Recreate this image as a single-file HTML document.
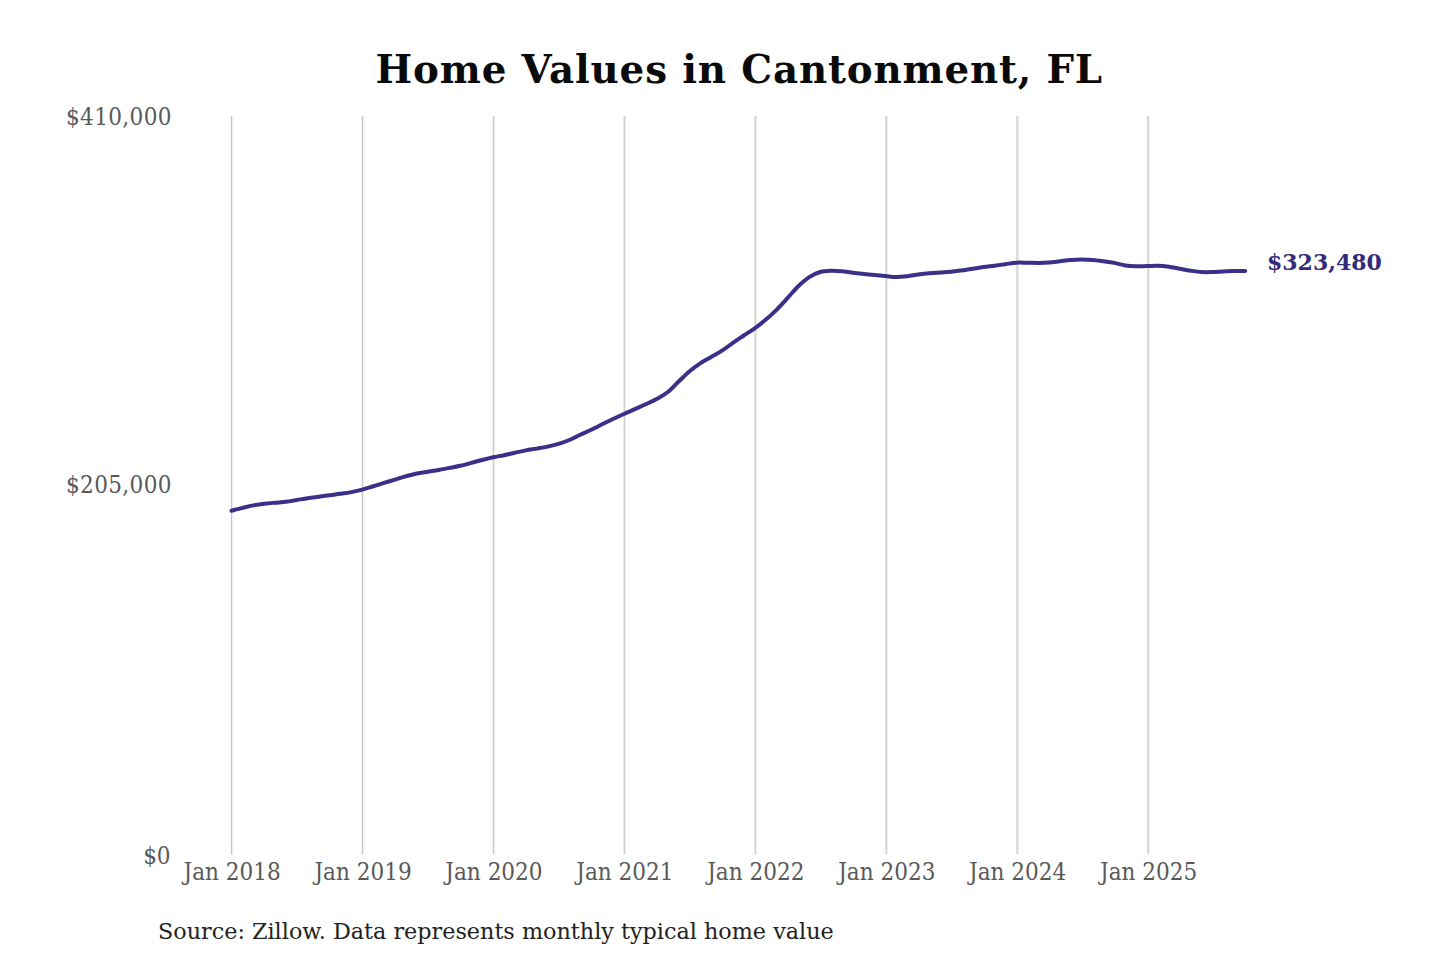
<!DOCTYPE html>
<html><head><meta charset="utf-8"><title>Home Values in Cantonment, FL</title>
<style>
html,body{margin:0;padding:0;background:#fff;}
body{width:1440px;height:960px;overflow:hidden;}
svg{display:block;}
.title{font-family:"DejaVu Serif",serif;font-weight:bold;font-size:38.8px;fill:#0a0a0a;}
.ax{font-family:"DejaVu Serif Condensed","DejaVu Serif",serif;font-stretch:condensed;font-size:24px;fill:#595959;}
.yl{letter-spacing:0.35px;}
.src{font-family:"DejaVu Serif",serif;font-size:22.3px;fill:#222;}
.val{font-family:"DejaVu Serif",serif;font-weight:bold;font-size:22px;fill:#332b7a;}
</style></head>
<body>
<svg width="1440" height="960" viewBox="0 0 1440 960">
<rect width="1440" height="960" fill="#fff"/>
<text class="title" x="375.6" y="82.9" textLength="726.5" lengthAdjust="spacing">Home Values in Cantonment, FL</text>
<g stroke="#f0f0f0" stroke-width="3"><line x1="232" y1="116" x2="232" y2="854.3"/><line x1="362.93" y1="116" x2="362.93" y2="854.3"/><line x1="493.86" y1="116" x2="493.86" y2="854.3"/><line x1="624.79" y1="116" x2="624.79" y2="854.3"/><line x1="755.72" y1="116" x2="755.72" y2="854.3"/><line x1="886.65" y1="116" x2="886.65" y2="854.3"/><line x1="1017.58" y1="116" x2="1017.58" y2="854.3"/><line x1="1148.51" y1="116" x2="1148.51" y2="854.3"/></g>
<g stroke="#c6c6c6" stroke-width="1"><line x1="231.5" y1="116" x2="231.5" y2="854.3"/><line x1="362.43" y1="116" x2="362.43" y2="854.3"/><line x1="493.36" y1="116" x2="493.36" y2="854.3"/><line x1="624.29" y1="116" x2="624.29" y2="854.3"/><line x1="755.22" y1="116" x2="755.22" y2="854.3"/><line x1="886.15" y1="116" x2="886.15" y2="854.3"/><line x1="1017.08" y1="116" x2="1017.08" y2="854.3"/><line x1="1148.01" y1="116" x2="1148.01" y2="854.3"/></g>
<g class="ax yl" text-anchor="end">
<text x="171.8" y="124.6">$410,000</text>
<text x="171.8" y="492.5">$205,000</text>
<text x="170.6" y="863.8" letter-spacing="0">$0</text>
</g>
<g class="ax" text-anchor="middle"><text x="232.1" y="879.5">Jan 2018</text><text x="363.03" y="879.5">Jan 2019</text><text x="493.96" y="879.5">Jan 2020</text><text x="624.89" y="879.5">Jan 2021</text><text x="755.82" y="879.5">Jan 2022</text><text x="886.75" y="879.5">Jan 2023</text><text x="1017.68" y="879.5">Jan 2024</text><text x="1148.61" y="879.5">Jan 2025</text></g>
<path d="M231.5,510.7C233.32,510.23 238.77,508.78 242.4,507.9C246.03,507.02 249.67,506.09 253.3,505.4C256.93,504.71 260.57,504.2 264.2,503.75C267.83,503.3 271.47,503.02 275.1,502.7C278.73,502.38 282.37,502.25 286,501.8C289.63,501.35 293.27,500.6 296.9,500C300.53,499.4 304.17,498.75 307.8,498.2C311.43,497.65 315.07,497.2 318.7,496.7C322.33,496.2 325.97,495.68 329.6,495.2C333.23,494.72 336.87,494.32 340.5,493.8C344.13,493.28 347.77,492.8 351.4,492.1C355.03,491.4 358.67,490.58 362.3,489.6C365.93,488.62 369.57,487.37 373.2,486.25C376.83,485.13 380.47,484.01 384.1,482.9C387.73,481.79 391.37,480.71 395,479.6C398.63,478.49 402.27,477.27 405.9,476.25C409.53,475.23 413.17,474.26 416.8,473.5C420.43,472.74 424.07,472.28 427.7,471.7C431.33,471.12 434.97,470.63 438.6,470C442.23,469.37 445.87,468.6 449.5,467.9C453.13,467.2 456.77,466.63 460.4,465.8C464.03,464.97 467.67,463.87 471.3,462.9C474.93,461.93 478.57,460.93 482.2,460C485.83,459.07 489.47,458.1 493.1,457.3C496.73,456.5 500.37,455.96 504,455.2C507.63,454.44 511.27,453.55 514.9,452.75C518.53,451.95 522.17,451.09 525.8,450.4C529.43,449.71 533.07,449.23 536.7,448.6C540.33,447.97 543.97,447.38 547.6,446.6C551.23,445.82 554.87,445 558.5,443.9C562.13,442.8 565.77,441.52 569.4,440C573.03,438.48 576.67,436.5 580.3,434.8C583.93,433.1 587.57,431.55 591.2,429.8C594.83,428.05 598.47,426.1 602.1,424.3C605.73,422.5 609.37,420.72 613,419C616.63,417.28 620.27,415.63 623.9,414C627.53,412.37 631.17,410.82 634.8,409.2C638.43,407.58 642.07,406 645.7,404.3C649.33,402.6 652.97,401 656.6,399C660.23,397 663.87,395.17 667.5,392.3C671.13,389.43 674.77,385.27 678.4,381.8C682.03,378.33 685.67,374.58 689.3,371.5C692.93,368.42 696.57,365.7 700.2,363.3C703.83,360.9 707.47,359.2 711.1,357.1C714.73,355 718.37,353.08 722,350.7C725.63,348.32 729.27,345.33 732.9,342.8C736.53,340.27 740.17,337.92 743.8,335.5C747.43,333.08 751.07,330.92 754.7,328.3C758.33,325.68 761.97,322.88 765.6,319.8C769.23,316.72 772.87,313.4 776.5,309.8C780.13,306.2 783.77,302.12 787.4,298.2C791.03,294.28 794.67,289.8 798.3,286.3C801.93,282.8 805.57,279.58 809.2,277.2C812.83,274.82 816.47,273.08 820.1,272C823.73,270.92 827.37,270.83 831,270.7C834.63,270.57 838.27,270.87 841.9,271.2C845.53,271.53 849.17,272.25 852.8,272.7C856.43,273.15 860.07,273.52 863.7,273.9C867.33,274.28 870.97,274.63 874.6,275C878.23,275.37 881.87,275.75 885.5,276.1C889.13,276.45 892.77,277.08 896.4,277.1C900.03,277.12 903.67,276.67 907.3,276.25C910.93,275.83 914.57,275.09 918.2,274.6C921.83,274.11 925.47,273.65 929.1,273.3C932.73,272.95 936.37,272.75 940,272.5C943.63,272.25 947.27,272.15 950.9,271.8C954.53,271.45 958.17,270.91 961.8,270.4C965.43,269.89 969.07,269.3 972.7,268.75C976.33,268.2 979.97,267.61 983.6,267.1C987.23,266.59 990.87,266.18 994.5,265.7C998.13,265.22 1001.77,264.7 1005.4,264.2C1009.03,263.7 1012.67,262.95 1016.3,262.7C1019.93,262.45 1023.57,262.67 1027.2,262.7C1030.83,262.73 1034.47,262.93 1038.1,262.9C1041.73,262.87 1045.37,262.77 1049,262.5C1052.63,262.23 1056.27,261.67 1059.9,261.25C1063.53,260.83 1067.17,260.27 1070.8,260C1074.43,259.73 1078.07,259.6 1081.7,259.6C1085.33,259.6 1088.97,259.72 1092.6,260C1096.23,260.28 1099.87,260.82 1103.5,261.3C1107.13,261.78 1110.77,262.22 1114.4,262.9C1118.03,263.58 1121.67,264.84 1125.3,265.4C1128.93,265.96 1132.57,266.15 1136.2,266.25C1139.83,266.35 1143.47,266.07 1147.1,266C1150.73,265.93 1154.37,265.67 1158,265.8C1161.63,265.93 1165.27,266.31 1168.9,266.8C1172.53,267.29 1176.17,268.1 1179.8,268.75C1183.43,269.4 1187.07,270.14 1190.7,270.7C1194.33,271.26 1197.97,271.87 1201.6,272.1C1205.23,272.33 1208.87,272.2 1212.5,272.1C1216.13,272 1219.77,271.68 1223.4,271.5C1227.03,271.32 1230.67,271.08 1234.3,271C1237.93,270.92 1243.38,271 1245.2,271" fill="none" stroke="#383089" stroke-width="4" stroke-linejoin="round" stroke-linecap="round"/>
<text class="val" x="1267" y="269.8">$323,480</text>
<text class="src" x="158" y="939">Source: Zillow. Data represents monthly typical home value</text>
</svg>
</body></html>
